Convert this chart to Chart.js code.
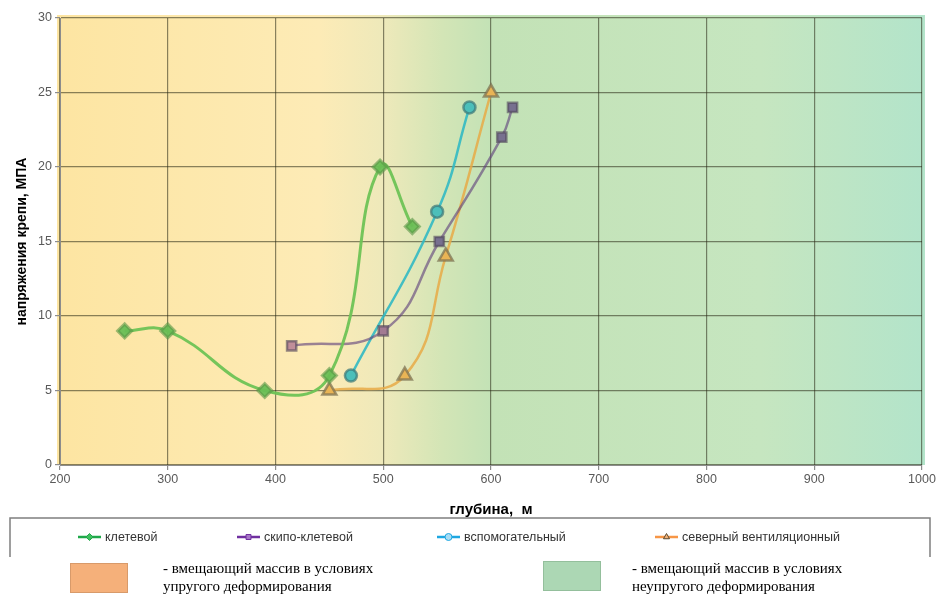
<!DOCTYPE html>
<html>
<head>
<meta charset="utf-8">
<script src="https://cdn.jsdelivr.net/npm/chart.js@4"></script>
<style>
  body { margin: 0; background: #fff; }
  #wrap { width: 938px; height: 595px; }
</style>
</head>
<body>
<div id="wrap"><canvas id="chart" width="938" height="595"></canvas></div>
<script>
// depth (m) vs lining stress (MPa)
const seriesNames = ['клетевой', 'скипо-клетевой', 'вспомогательный', 'северный вентиляционный'];
const kletDepth = [260, 300, 390, 450, 497, 527];
const kletStress = [9, 9, 5, 6, 20, 16];
const skipDepth = [415, 500, 552, 610, 620];
const skipStress = [8, 9, 15, 22, 24];
const vspomDepth = [470, 550, 580];
const vspomStress = [6, 17, 24];
const sevDepth = [450, 520, 558, 600];
const sevStress = [5, 6, 14, 25];

const xTicks = [200, 300, 400, 500, 600, 700, 800, 900, 1000];
const yTicks = [0, 5, 10, 15, 20, 25, 30];

const zoneText = [
  ['- вмещающий массив в условиях', 'упругого деформирования'],
  ['- вмещающий массив в условиях', 'неупругого деформирования']
];

function pts(xs, ys) {
  return xs.map((x, i) => ({ x: x, y: ys[i] }));
}

// background: yellow (elastic) fading into green (inelastic)
const zoneBg = {
  id: 'zoneBg',
  beforeDraw(chart) {
    const { ctx, chartArea: a, scales: { x } } = chart;
    const stops = [[200, '#fde5a2'], [440, '#fdebb6'], [500, '#eee9ba'], [555, '#d3e5b6'],
      [600, '#c3e2b6'], [850, '#c6e6c0'], [1000, '#b3e4ca']];
    const g = ctx.createLinearGradient(a.left, 0, a.right, 0);
    stops.forEach(s => g.addColorStop((x.getPixelForValue(s[0]) - a.left) / (a.right - a.left), s[1]));
    ctx.save();
    ctx.fillStyle = g;
    ctx.fillRect(a.left - 3, a.top - 3, a.right - a.left + 6, a.bottom - a.top + 3);
    ctx.restore();
  }
};

const legendColors = ['#1fa84a', '#7030a0', '#1ea7e1', '#f79646'];
const legendFill = ['#3fbf5f', '#a878c8', '#a8dcf4', '#f2b27a'];
const legendStyle = ['rectRot', 'rect', 'circle', 'triangle'];

const bottomLegend = {
  id: 'bottomLegend',
  afterDraw(chart) {
    const ctx = chart.ctx;
    ctx.save();
    // frame
    ctx.strokeStyle = '#7f7f7f';
    ctx.lineWidth = 1.5;
    ctx.beginPath();
    ctx.moveTo(10, 557); ctx.lineTo(10, 518); ctx.lineTo(930, 518); ctx.lineTo(930, 557);
    ctx.stroke();

    const xs = [78, 237, 437, 655];
    ctx.font = '12.5px "Liberation Sans", Arial, sans-serif';
    ctx.textBaseline = 'middle';
    seriesNames.forEach((name, i) => {
      const x0 = xs[i], y0 = 537;
      ctx.strokeStyle = legendColors[i];
      ctx.lineWidth = 2.5;
      ctx.beginPath(); ctx.moveTo(x0, y0); ctx.lineTo(x0 + 23, y0); ctx.stroke();
      ctx.lineWidth = 1;
      ctx.fillStyle = legendFill[i];
      ctx.strokeStyle = i === 3 ? '#5a4a30' : legendColors[i];
      Chart.helpers.drawPoint(ctx, { pointStyle: legendStyle[i], radius: 3.5, rotation: 0, borderWidth: 1 }, x0 + 11.5, y0);
      ctx.fillStyle = '#333';
      ctx.fillText(name, x0 + 27, y0 + 1);
    });

    // zone swatches
    const sw = [[70, 563, '#f5b07a', '#d89a6a'], [543, 561, '#acd7b4', '#94bf9c']];
    const tx = [163, 632];
    ctx.font = '15px "Liberation Serif", "Times New Roman", serif';
    sw.forEach((s, i) => {
      ctx.fillStyle = s[2];
      ctx.fillRect(s[0], s[1], 58, 30);
      ctx.strokeStyle = s[3];
      ctx.lineWidth = 1;
      ctx.strokeRect(s[0] + 0.5, s[1] + 0.5, 57, 29);
      ctx.fillStyle = '#000';
      ctx.fillText(zoneText[i][0], tx[i], 569);
      ctx.fillText(zoneText[i][1], tx[i], 587);
    });
    ctx.restore();
  }
};

const tickFont = { size: 12.5, family: '"Liberation Sans", Arial' };
const gridStyle = { color: 'rgba(40,40,20,0.55)', lineWidth: 1.2, tickLength: 5, tickColor: '#8c8c8c' };

const ctx = document.getElementById('chart').getContext('2d');
new Chart(ctx, {
  type: 'line',
  data: {
    datasets: [
      {
        label: seriesNames[0],
        data: pts(kletDepth, kletStress),
        borderColor: 'rgba(110,195,85,0.95)',
        backgroundColor: 'rgba(105,190,85,0.95)',
        pointBorderColor: 'rgba(90,150,70,0.6)',
        pointStyle: 'rectRot',
        pointRadius: 7,
        borderWidth: 3,
        tension: 0.45
      },
      {
        label: seriesNames[1],
        data: pts(skipDepth, skipStress),
        borderColor: 'rgba(95,65,125,0.62)',
        backgroundColor: c => (c.raw && c.raw.x < 540 ? (c.raw.x < 450 ? '#c08e99' : '#a27b92') : '#77708f'),
        pointBorderColor: 'rgba(80,70,90,0.6)',
        pointStyle: 'rect',
        pointRadius: 6.5,
        borderWidth: 2.5,
        tension: 0.45
      },
      {
        label: seriesNames[2],
        data: pts(vspomDepth, vspomStress),
        borderColor: 'rgba(50,185,195,0.9)',
        backgroundColor: '#4cbfba',
        pointBorderColor: 'rgba(60,120,120,0.7)',
        pointStyle: 'circle',
        pointRadius: 6,
        borderWidth: 2.5,
        tension: 0.45
      },
      {
        label: seriesNames[3],
        data: pts(sevDepth, sevStress),
        borderColor: 'rgba(232,170,70,0.85)',
        backgroundColor: '#e9b455',
        pointBorderColor: 'rgba(120,110,80,0.7)',
        pointStyle: 'triangle',
        pointRadius: 8,
        borderWidth: 2.5,
        tension: 0.45
      }
    ]
  },
  options: {
    responsive: false,
    animation: false,
    devicePixelRatio: 1,
    layout: { padding: { top: 18, right: 16, bottom: 76, left: 0 } },
    plugins: {
      legend: { display: false },
      tooltip: { enabled: false }
    },
    elements: { point: { borderWidth: 1 } },
    scales: {
      x: {
        type: 'linear',
        min: 200,
        max: 1000,
        afterBuildTicks: s => { s.ticks = xTicks.map(v => ({ value: v })); },
        grid: gridStyle,
        border: { color: '#8c8c8c', width: 1 },
        ticks: { color: '#595959', font: tickFont, padding: 2, maxRotation: 0, callback: v => String(v) },
        title: {
          display: true,
          text: 'глубина,  м',
          color: '#000',
          font: { size: 15, weight: 'bold', family: '"Liberation Sans", Arial' },
          padding: { top: 12, bottom: 0 }
        }
      },
      y: {
        min: 0,
        max: 30,
        afterBuildTicks: s => { s.ticks = yTicks.map(v => ({ value: v })); },
        afterFit: s => { s.width = 60; },
        grid: gridStyle,
        border: { color: '#8c8c8c', width: 1 },
        ticks: { color: '#595959', font: tickFont, padding: 3, callback: v => String(v) },
        title: {
          display: true,
          text: 'напряжения крепи, МПА',
          color: '#000',
          font: { size: 14, weight: 'bold', family: '"Liberation Sans", Arial' },
          padding: { top: 14, bottom: 4 }
        }
      }
    }
  },
  plugins: [zoneBg, bottomLegend]
});
</script>
</body>
</html>
